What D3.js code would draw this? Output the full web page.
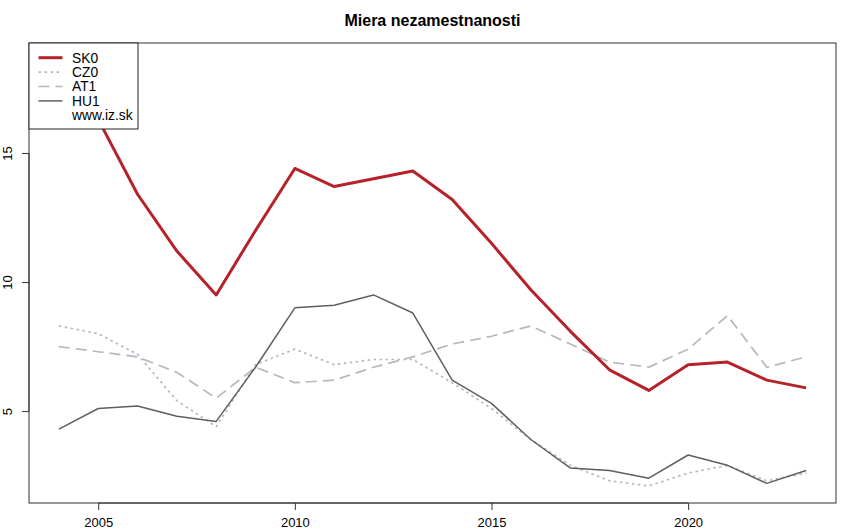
<!DOCTYPE html>
<html>
<head>
<meta charset="utf-8">
<script src="https://cdn.jsdelivr.net/npm/d3@7"></script>
<style>
  html, body { margin: 0; padding: 0; background: #fff; }
  svg { display: block; font-family: "Liberation Sans", Arial, sans-serif; }
</style>
</head>
<body>
<svg id="chart" width="850" height="532"></svg>
<script>
const years = [2004,2005,2006,2007,2008,2009,2010,2011,2012,2013,2014,2015,2016,2017,2018,2019,2020,2021,2022,2023];
const SK0 = [18.6,16.3,13.4,11.2,9.5,12.0,14.4,13.7,14.0,14.3,13.2,11.5,9.7,8.1,6.6,5.8,6.8,6.9,6.2,5.9];
const CZ0 = [8.3,8.0,7.2,5.4,4.4,6.8,7.4,6.8,7.0,7.0,6.1,5.1,3.9,2.9,2.3,2.1,2.6,2.9,2.3,2.6];
const AT1 = [7.5,7.3,7.1,6.5,5.5,6.7,6.1,6.2,6.7,7.1,7.6,7.9,8.3,7.6,6.9,6.7,7.4,8.7,6.7,7.1];
const HU1 = [4.3,5.1,5.2,4.8,4.6,6.7,9.0,9.1,9.5,8.8,6.2,5.3,3.9,2.8,2.7,2.4,3.3,2.9,2.2,2.7];
const xTicks = [2005,2010,2015,2020];
const yTicks = [5,10,15];
const title = "Miera nezamestnanosti";
const legendLabels = ["SK0","CZ0","AT1","HU1","www.iz.sk"];

const series = [
  {name:"SK0", values:SK0, color:"#b5222a", width:3, dash:null},
  {name:"CZ0", values:CZ0, color:"#b3b8c0", width:1.7, dash:"2.5,3.5"},
  {name:"AT1", values:AT1, color:"#b3b8c0", width:1.7, dash:"11,6"},
  {name:"HU1", values:HU1, color:"#5f5f5f", width:1.5, dash:null}
];

const L = 29, R = 836, T = 43, B = 503;
const svg = d3.select("#chart");

const xExt = d3.extent(years);
const xPad = (xExt[1]-xExt[0])*0.04;
const x = d3.scaleLinear().domain([xExt[0]-xPad, xExt[1]+xPad]).range([L, R]);
const allV = SK0.concat(CZ0, AT1, HU1);
const yExt = d3.extent(allV);
const yPad = (yExt[1]-yExt[0])*0.04;
const y = d3.scaleLinear().domain([yExt[0]-yPad, yExt[1]+yPad]).range([B, T]);

// lines
const line = d3.line().x((d,i)=>x(years[i])).y(d=>y(d));
svg.append("clipPath").attr("id","clip").append("rect")
  .attr("x",L).attr("y",T).attr("width",R-L).attr("height",B-T);
const g = svg.append("g").attr("clip-path","url(#clip)");
[series[1], series[2], series[3], series[0]].forEach(s => {
  g.append("path").datum(s.values)
    .attr("d", line)
    .attr("fill","none")
    .attr("stroke", s.color)
    .attr("stroke-width", s.width)
    .attr("stroke-dasharray", s.dash)
    .attr("stroke-linejoin","round");
});

// box
svg.append("rect").attr("x",L).attr("y",T).attr("width",R-L).attr("height",B-T)
  .attr("fill","none").attr("stroke","#333").attr("stroke-width",1);

// x axis
const xAxis = d3.axisBottom(x).tickValues(xTicks).tickFormat(d3.format("d")).tickSize(7).tickPadding(8);
const gx = svg.append("g").attr("transform",`translate(0,${B})`).call(xAxis);
gx.select(".domain").attr("d", `M${x(xTicks[0])},0H${x(xTicks[xTicks.length-1])}`).attr("stroke","#333");
gx.selectAll(".tick line").attr("stroke","#333");
gx.selectAll(".tick text").attr("font-size",13).attr("fill","#000")
  .attr("font-family","'Liberation Sans', Arial, sans-serif");

// y axis
const yAxis = d3.axisLeft(y).tickValues(yTicks).tickSize(7).tickPadding(0);
const gy = svg.append("g").attr("transform",`translate(${L},0)`).call(yAxis);
gy.select(".domain").attr("d", `M0,${y(yTicks[0])}V${y(yTicks[yTicks.length-1])}`).attr("stroke","#333");
gy.selectAll(".tick line").attr("stroke","#333");
gy.selectAll(".tick text")
  .attr("font-size",13).attr("fill","#000")
  .attr("font-family","'Liberation Sans', Arial, sans-serif")
  .attr("x",null).attr("dy",null)
  .attr("text-anchor","middle")
  .attr("transform","translate(-17,0) rotate(-90)");

// title
svg.append("text").attr("x",(L+R)/2).attr("y",26).attr("text-anchor","middle")
  .attr("font-weight","bold").attr("font-size",16).text(title);

// legend
const lg = svg.append("g");
lg.append("rect").attr("x",L).attr("y",T).attr("width",109).attr("height",86)
  .attr("fill","#fff").attr("stroke","#222").attr("stroke-width",1);
const rowY = i => 57.7 + i*14.4;
legendLabels.forEach((lab,i) => {
  const s = series[i];
  if (s) {
    lg.append("line").attr("x1",38.5).attr("x2",62.5).attr("y1",rowY(i)).attr("y2",rowY(i))
      .attr("stroke",s.color).attr("stroke-width",s.width).attr("stroke-dasharray",s.dash);
  }
  lg.append("text").attr("x",72).attr("y",rowY(i)).attr("dy","0.36em")
    .attr("font-size",13.8).text(lab);
});
</script>
</body>
</html>
